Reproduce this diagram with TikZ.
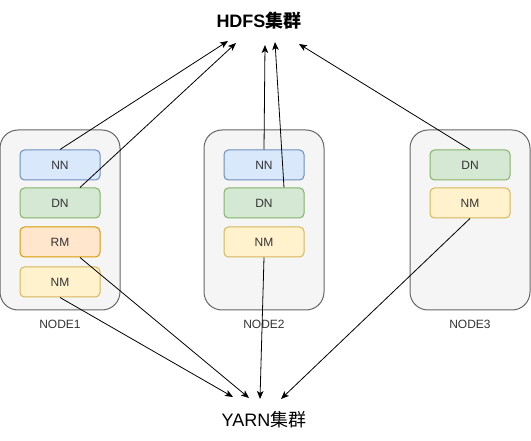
\documentclass[tikz,border=0pt]{standalone}
\usepackage{fontspec}
\setmainfont{Liberation Sans}
\newfontfamily\cjk{Noto Sans CJK SC}
\usepackage{xcolor}
\usepackage{tikz}
\usetikzlibrary{arrows.meta}

\definecolor{hostfill}{HTML}{F5F5F5}
\definecolor{hostline}{HTML}{666666}
\definecolor{nnfill}{HTML}{DAE8FC}
\definecolor{nnline}{HTML}{6C8EBF}
\definecolor{dnfill}{HTML}{D5E8D4}
\definecolor{dnline}{HTML}{82B366}
\definecolor{rmfill}{HTML}{FFE6CC}
\definecolor{rmline}{HTML}{D79B00}
\definecolor{nmfill}{HTML}{FFF2CC}
\definecolor{nmline}{HTML}{D6B656}
\definecolor{labeltext}{HTML}{333333}

\begin{document}
\begin{tikzpicture}[x=1pt,y=-1pt]
        \tikzstyle{host}=[draw=hostline, fill=hostfill, line width=1pt, rounded corners=18pt, minimum width=120pt, minimum height=180pt, inner sep=0pt];
        \tikzstyle{role}=[line width=1pt, rounded corners=4.5pt, minimum width=80pt, minimum height=30pt, inner sep=0pt, text=labeltext, font=\fontsize{12}{14}\selectfont];
        \tikzstyle{nn}=[role, draw=nnline, fill=nnfill];
        \tikzstyle{dn}=[role, draw=dnline, fill=dnfill];
        \tikzstyle{rm}=[role, draw=rmline, fill=rmfill];
        \tikzstyle{nm}=[role, draw=nmline, fill=nmfill];
        \tikzstyle{hostname}=[text=labeltext, font=\fontsize{12}{14}\selectfont];
        \tikzstyle{report}=[line width=0.8pt, -{Stealth[length=8pt,width=6.5pt,inset=2pt]}];

        % Fix the size of the page
        \useasboundingbox (0,0) rectangle (531,441);

        % The two clusters
        \node (hdfs) at (259,21) {\fontsize{18}{20}\selectfont\bfseries HDFS{\cjk 集群}};
        \node (yarn) at (264,420) {\fontsize{18}{20}\selectfont YARN{\cjk 集群}};

        % The three machines
        \node[host] (host1) at (60,220) {};
        \node[host] (host2) at (264,220) {};
        \node[host] (host3) at (470,220) {};
        \node[hostname] (name1) at (60,324) {NODE1};
        \node[hostname] (name2) at (264,324) {NODE2};
        \node[hostname] (name3) at (470,324) {NODE3};

        % Roles on NODE1
        \node[nn] (nn1) at (60,165) {NN};
        \node[dn] (dn1) at (60,203) {DN};
        \node[rm] (rm1) at (60,242) {RM};
        \node[nm] (nm1) at (60,282) {NM};

        % Roles on NODE2
        \node[nn] (nn2) at (264,165) {NN};
        \node[dn] (dn2) at (264,203) {DN};
        \node[nm] (nm2) at (264,242) {NM};

        % Roles on NODE3
        \node[dn] (dn3) at (470,165) {DN};
        \node[nm] (nm3) at (470,203) {NM};

        % Where the arrows end
        \coordinate (hdfs1) at (228,41);
        \coordinate (hdfs2) at (236,43);
        \coordinate (hdfs3) at (265,45);
        \coordinate (hdfs4) at (275,42);
        \coordinate (hdfs5) at (299,44);
        \coordinate (yarn1) at (233,397);
        \coordinate (yarn2) at (249,398);
        \coordinate (yarn3) at (260,399);
        \coordinate (yarn4) at (281,399);

        % HDFS roles
        \draw[report] (nn1.north) -- (hdfs1);
        \draw[report] ([xshift=20pt]dn1.north) -- (hdfs2);
        \draw[report] (nn2.north) -- (hdfs3);
        \draw[report] ([xshift=20pt]dn2.north) -- (hdfs4);
        \draw[report] (dn3.north) -- (hdfs5);

        % YARN roles
        \draw[report] (nm1.south) -- (yarn1);
        \draw[report] ([xshift=20pt]rm1.south) -- (yarn2);
        \draw[report] (nm2.south) -- (yarn3);
        \draw[report] (nm3.south) -- (yarn4);
\end{tikzpicture}
\end{document}
